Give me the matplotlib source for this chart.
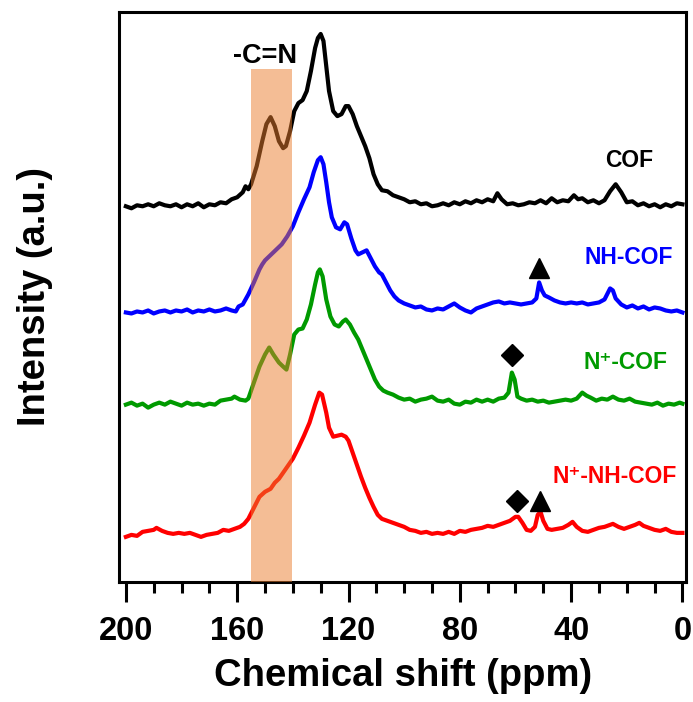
#!/usr/bin/env python
"""
Solid-state 13C NMR spectra of the four COF samples, stacked with offsets
"""

import matplotlib
matplotlib.use("Agg")
import matplotlib.pyplot as plt
from matplotlib.ticker import MultipleLocator

# COF (black), intensity above its own baseline
cof_ppm = [200, 198, 196, 194, 192, 190, 188, 186, 184, 182, 180, 178, 176, 174, 172, 170,
           168, 166, 164, 162, 160, 158, 157, 156, 155, 153, 151, 149.5, 148, 146.5, 145,
           143.5, 142.5, 141, 139.5, 138, 136.5, 135, 133.5, 132, 131, 130, 129, 128, 127,
           125.5, 124, 122.5, 121, 120, 118.5, 117, 115.5, 114, 112.5, 111, 109.5, 108, 106,
           104, 102, 100, 98, 96, 94, 92, 90, 88, 86, 84, 82, 80, 78, 76, 74, 72, 70, 68,
           66.5, 65, 63, 61, 59, 57, 55, 53, 51, 49, 47, 45, 43, 41, 39, 37.5, 36, 34, 32,
           30, 28, 26, 24, 22, 20, 18, 16, 14, 12, 10, 8, 6, 4, 2, 0]
cof_int = [0, -2, 1, 0, 2, 0, 3, 1, 0, 2, -1, 2, 0, 3, -1, 2,
           1, 4, 3, 7, 9, 14, 20, 17, 22, 40, 65, 82, 89, 80, 65,
           58, 60, 75, 95, 103, 106, 115, 135, 158, 168, 172, 165, 140, 115,
           95, 90, 92, 100, 100, 92, 80, 70, 60, 48, 32, 22, 16, 15,
           11, 9, 7, 4, 5, 2, 3, 0, 1, 3, 1, 4, 2, 5, 3, 6, 4, 7, 5,
           13, 7, 2, 3, 1, 2, 4, 3, 6, 3, 8, 4, 6, 5, 11, 7, 8, 4, 6,
           3, 6, 15, 22, 14, 4, 5, 1, 3, 0, 2, -1, 2, 0, 3, 2]

# NH-COF (blue)
nh_ppm = [200, 198, 196, 194, 192, 190, 188, 186, 184, 182, 180, 178, 176, 174, 172, 170,
          168, 166, 164, 162, 160.5, 159.5, 158, 156, 154, 152, 151, 150, 148.5, 147, 145.5,
          144, 142, 140, 138, 136, 134, 132.5, 131, 130, 129, 128, 127, 126, 124.5, 123,
          121.5, 120.5, 119, 117.5, 116.5, 115, 113.5, 112, 110.5, 109, 108, 106.5, 105,
          103.5, 102, 100, 98, 96, 94, 92, 90, 88, 86, 84, 82, 80, 78, 76, 74, 72, 70, 68,
          66, 64, 62, 60, 58, 56, 54, 52.5, 51.5, 50.5, 49.5, 48, 46, 44, 42, 40, 38, 36,
          34, 32, 30, 28, 26, 25, 24, 22, 20, 18, 16, 14, 12, 10, 8, 6, 4, 2, 0]
nh_int = [0, -1, 1, 0, 2, -1, 1, 2, 0, 2, 1, 3, 0, 2, 1, 3,
          1, 2, 4, 2, 1, 6, 8, 18, 30, 43, 48, 52, 56, 60, 64,
          68, 76, 86, 100, 113, 125, 140, 152, 155, 148, 130, 110, 95, 85, 83,
          90, 88, 74, 62, 58, 60, 62, 54, 46, 40, 38, 30, 22,
          16, 12, 9, 7, 5, 6, 3, 2, 4, 3, 6, 9, 5, 2, 0, 4, 6, 8, 10,
          11, 9, 10, 9, 8, 9, 10, 14, 30, 22, 17, 15, 12, 10, 9, 10, 9, 10,
          8, 9, 10, 13, 24, 22, 14, 8, 5, 7, 4, 6, 3, 5, 4, 2, 1, 2, 0]

# N+-COF (green)
np_ppm = [200, 198, 196, 194, 192, 190, 188, 186, 184, 182, 180, 178, 176, 174, 172, 170,
          168, 166, 164, 162, 161, 159, 157, 156, 154, 152, 150, 148.5, 147, 145, 143.5,
          142.3, 141, 139.5, 138, 136.5, 135, 133.5, 132, 131, 130.3, 129.3, 128, 126.5,
          125, 123.5, 122, 121, 119.5, 118, 116.5, 115, 113.5, 112, 110.5, 109, 107.5, 106,
          104, 102, 100, 98, 96, 94, 92, 90, 88, 86, 84, 82, 80, 78, 76, 74, 72, 70, 68, 66,
          64, 62.5, 61.3, 60.3, 59.3, 58, 56, 54, 52, 50, 48, 46, 44, 42, 40, 38, 36, 34.5,
          33, 31, 29, 27, 25, 23, 21, 19, 17, 15, 13, 11, 9, 7, 5, 3, 1, 0]
np_int = [0, 2, -1, 1, -3, 0, 2, 0, 3, 1, -1, 2, 0, 1, -1, 1,
          0, 4, 5, 6, 8, 5, 4, 6, 22, 38, 50, 57, 50, 42, 38,
          35, 50, 70, 75, 76, 85, 100, 120, 132, 135, 128, 105, 88,
          80, 78, 83, 85, 80, 72, 65, 55, 45, 35, 25, 18, 14, 12,
          10, 7, 5, 6, 3, 5, 6, 8, 4, 3, 5, 1, 0, 3, 2, 5, 3, 5, 3, 6,
          7, 12, 32, 25, 8, 6, 4, 5, 3, 4, 2, 3, 4, 5, 4, 6, 12, 9,
          7, 4, 6, 5, 8, 5, 4, 6, 3, 2, 1, 0, 2, -1, 1, 0, 2, 1]

# N+-NH-COF (red)
npnh_ppm = [200, 198, 196, 194, 192, 190, 189, 187, 185, 183, 181, 179, 177, 175, 173, 171,
            169, 167, 165, 163, 161, 159, 157.5, 156, 154, 152, 150, 148, 146.5, 145, 143.5,
            142, 140, 138, 136, 134, 132, 130.5, 129.5, 128, 127, 125.5, 124, 122.5, 121, 120,
            118.5, 117, 115.5, 114, 112.5, 111, 109.5, 108, 106, 104, 102, 100, 98, 96, 94,
            92, 90, 88, 86, 84, 82, 80, 78, 76, 74, 72, 70, 68, 66, 64, 62, 60, 59, 57.5, 56,
            54.5, 53, 52, 51, 50, 48.5, 47, 45, 43, 41, 39.5, 38, 36, 34, 32, 30, 28, 26, 25,
            23, 21, 19, 17, 15.5, 14, 12, 10, 8, 6, 4, 2, 0]
npnh_int = [-4, -2, -3, 1, 2, 3, 5, 2, 0, -1, 0, -1, 0, -2, -4, -2,
            -1, 0, 3, 2, 4, 6, 9, 14, 25, 36, 41, 44, 50, 54, 60,
            66, 74, 85, 97, 110, 128, 140, 138, 120, 105, 96, 97, 98, 96, 92,
            80, 68, 56, 45, 35, 26, 18, 14, 12, 10, 8, 6, 3, 2, 0,
            1, -1, 0, -1, 1, -1, 2, 1, 3, 4, 5, 7, 6, 8, 10, 12, 16, 16, 10, 3,
            2, 6, 18, 21, 12, 4, 3, 4, 5, 8, 11, 6, 2, 1, 3, 5, 6, 8, 9,
            6, 4, 6, 8, 10, 7, 5, 3, 2, 4, 1, 0, 0]

# vertical offsets of the stacked spectra
offsets = [375, 269, 177, 49]
names = ["COF", "NH-COF", "N\u207a-COF", "N\u207a-NH-COF"]
colors = ["black", "#0000ff", "#009a00", "#ff0000"]
label_pos = [(19.1, 421), (19.2, 324), (20.3, 219), (24.2, 105)]

# marker positions: (ppm, height, marker)
marks = [(51.6, 313, "^"), (61.1, 227, "D"), (59.3, 81, "D"), (51.3, 81, "^")]

plt.rcParams['font.family'] = ['Liberation Sans', 'DejaVu Sans']
plt.rcParams['font.weight'] = 'bold'

fig = plt.figure(figsize=(6.93, 7.02), dpi=100)
ax = fig.add_axes([0.172, 0.171, 0.818, 0.812])

spectra = [(cof_ppm, cof_int), (nh_ppm, nh_int), (np_ppm, np_int), (npnh_ppm, npnh_int)]
for (ppm, inten), off, col in zip(spectra, offsets, colors):
    ax.plot(ppm, [v + off for v in inten], color=col, lw=3, zorder=2)

for (x, y), name, col in zip(label_pos, names, colors):
    ax.text(x, y, name, color=col, fontsize=16.5, fontweight='bold',
            ha='center', va='center')

for x, y, m in marks:
    ms = 14 if m == "^" else 11.5
    ax.plot(x, y, marker=m, color='black', ms=ms, zorder=3)

# imine band
ax.axvspan(155, 140.4, ymin=0, ymax=512 / 569, color='#eb7d2d', alpha=0.5,
           lw=0, zorder=3)
ax.text(150, 525, "-C=N", fontsize=19.5, fontweight='bold', ha='center', va='center')

ax.set_xlim(202.4, -1.3)
ax.set_ylim(0, 569)
ax.xaxis.set_major_locator(MultipleLocator(40))
ax.xaxis.set_minor_locator(MultipleLocator(10))
ax.set_yticks([])
ax.tick_params(axis='x', which='major', length=14.4, width=2.2, labelsize=23.5, pad=10)
ax.tick_params(axis='x', which='minor', length=8, width=2.2)
for s in ax.spines.values():
    s.set_linewidth(2.2)

ax.set_xlabel('Chemical shift (ppm)', fontsize=27.5, fontweight='bold')
ax.xaxis.set_label_coords(0.5, -0.133)
ax.set_ylabel('Intensity (a.u.)', fontsize=27.5, fontweight='bold', labelpad=48)

plt.savefig('out.png', dpi=100)
